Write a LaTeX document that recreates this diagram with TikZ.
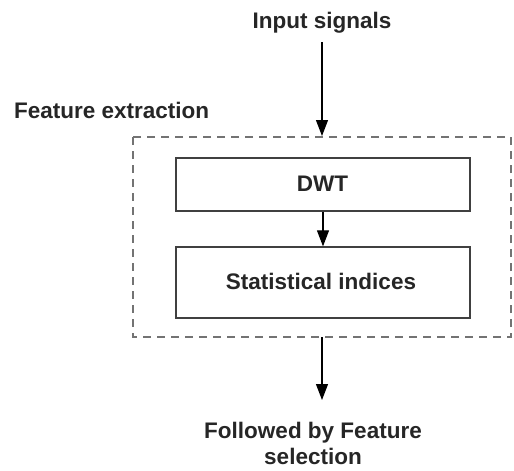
\documentclass[tikz,border=0pt]{standalone}
\usepackage{fontspec}
\setmainfont{Liberation Sans}
\usetikzlibrary{arrows.meta}
\begin{document}
\begin{tikzpicture}[x=1pt,y=-1pt,
  lbl/.style={font=\fontsize{22.5}{26}\selectfont\bfseries, text=black!85, inner sep=0pt, align=center, anchor=base},
  blk/.style={draw=black!75, line width=1.3pt, fill=white},
  arr/.style={draw=black, line width=1.1pt, -{Triangle[length=16pt,width=12pt]}},
  grp/.style={draw=black!55, line width=1.6pt, dash pattern=on 8pt off 6pt}]
\useasboundingbox (0,0) rectangle (514,471);
\node[lbl] (in) at (322,28) {Input signals};
\node[lbl, anchor=base west] (fe) at (14,118) {Feature extraction};
\draw[grp] (133,137) rectangle (511,337);
\coordinate (gtop) at (322,136);
\coordinate (gbot) at (322,337);
\coordinate (instart) at (322,42);
\node[blk, minimum width=294pt, minimum height=53pt] (dwt) at (323,184.5) {};
\node[lbl] (dwtlbl) at (322.5,191.5) {DWT};
\node[blk, minimum width=294pt, minimum height=71pt] (st) at (323,282.5) {};
\node[lbl] (stlbl) at (321,289) {Statistical indices};
\coordinate (bend) at (322,400);
\node[lbl] (out) at (313,464) {Followed by Feature\\selection};
\draw[arr] (instart) -- (gtop);
\draw[arr] (dwt.south) -- (st.north);
\draw[arr] (gbot) -- (bend);
\end{tikzpicture}
\end{document}
